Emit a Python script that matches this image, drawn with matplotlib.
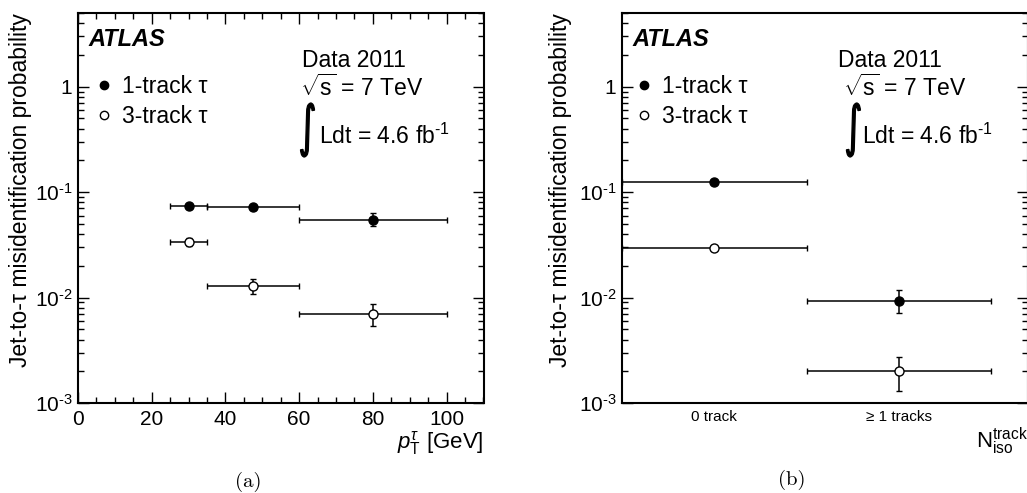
import numpy as np
import matplotlib
matplotlib.use('Agg')
import matplotlib.pyplot as plt
from matplotlib.lines import Line2D
from matplotlib.textpath import TextPath
from matplotlib.patches import PathPatch
from matplotlib.font_manager import FontProperties
from matplotlib.transforms import Affine2D
from matplotlib.ticker import MultipleLocator, LogLocator, FuncFormatter, NullFormatter

plt.rcParams['font.family'] = ['Liberation Sans', 'DejaVu Sans']
plt.rcParams['mathtext.fontset'] = 'custom'
plt.rcParams['mathtext.rm'] = 'Liberation Sans'
plt.rcParams['mathtext.it'] = 'Liberation Sans:italic'
plt.rcParams['mathtext.bf'] = 'Liberation Sans:bold'

# (a) fake rate vs pT
pt_center = np.array([30, 47.5, 80])
pt_lo = np.array([25, 35, 60])
pt_hi = np.array([35, 60, 100])
fake_1p = np.array([0.074, 0.072, 0.055])
fake_1p_up = np.array([0.004, 0.004, 0.009])
fake_1p_dn = np.array([0.004, 0.004, 0.007])
fake_3p = np.array([0.034, 0.0128, 0.0070])
fake_3p_up = np.array([0.003, 0.0022, 0.0017])
fake_3p_dn = np.array([0.003, 0.0020, 0.0016])

# (b) fake rate vs number of isolation tracks
iso_labels = ['0 track', '\u2265 1 tracks']
iso_center = np.array([0.5, 1.5])
iso_lo = np.array([0, 1])
iso_hi = np.array([1, 2])
iso_1p = np.array([0.125, 0.0093])
iso_1p_up = np.array([0.002, 0.0025])
iso_1p_dn = np.array([0.002, 0.0022])
iso_3p = np.array([0.0297, 0.0020])
iso_3p_up = np.array([0.0008, 0.00076])
iso_3p_dn = np.array([0.0008, 0.00071])

ylab = 'Jet-to-\u03c4 misidentification probability'
FS = 16.5


def log_fmt(v, pos):
    e = int(round(np.log10(v)))
    if e == 0:
        return '1'
    return '10$^{\u2010%d}$' % abs(e)


def draw_points(ax, x, lo, hi, y, dn, up, filled):
    ax.errorbar(x, y, xerr=[x - lo, hi - x], yerr=[dn, up], fmt='o',
                color='black', mfc='black' if filled else 'white', mec='black',
                ms=6.5, mew=1.0, elinewidth=1.1, capsize=2, capthick=1.1, zorder=3)


def style_axes(ax):
    ax.set_yscale('log')
    ax.set_ylim(1e-3, 5)
    ax.yaxis.set_major_locator(LogLocator(base=10, numticks=10))
    ax.yaxis.set_minor_locator(LogLocator(base=10, subs=np.arange(2, 10), numticks=10))
    ax.yaxis.set_major_formatter(FuncFormatter(log_fmt))
    ax.yaxis.set_minor_formatter(NullFormatter())
    ax.tick_params(axis='y', which='both', direction='in', left=True, right=True, labelsize=15, pad=4)
    ax.tick_params(axis='y', which='major', length=8, width=1)
    ax.tick_params(axis='y', which='minor', length=4, width=1)
    for s in ax.spines.values():
        s.set_linewidth(1.5)


def big_integral(fig, ax, xc, yc, height=54, squeeze=0.62):
    # tall, thin integral sign like the ROOT one
    tp = TextPath((0, 0), '\u222b', size=50, prop=FontProperties(family='DejaVu Sans'))
    ext = tp.get_extents()
    sy = height / ext.height
    sx = sy * squeeze
    px, py = ax.transAxes.transform((xc, yc))
    tr = (Affine2D().translate(-(ext.x0 + ext.x1) / 2, -(ext.y0 + ext.y1) / 2)
          .scale(sx, sy).translate(px, py))
    fig.add_artist(PathPatch(tp, transform=tr, facecolor='black', edgecolor='black', linewidth=0.9))


def add_text(fig, ax, x_atlas, x_data, x_sqrt, x_int, x_ldt, x_leg):
    ax.text(x_atlas, 0.933, 'ATLAS', transform=ax.transAxes, fontsize=17,
            fontweight='bold', fontstyle='italic', va='center', ha='left')
    ax.text(x_data, 0.879, 'Data 2011', transform=ax.transAxes, fontsize=FS, va='center')
    ax.text(x_sqrt, 0.808, r'$\sqrt{\mathrm{s}}$ = 7 TeV', transform=ax.transAxes, fontsize=FS, va='center')
    big_integral(fig, ax, x_int, 0.70)
    ax.text(x_ldt, 0.683, 'Ldt = 4.6 fb$^{\u20101}$', transform=ax.transAxes, fontsize=FS, va='center')
    handles = [Line2D([], [], ls='none', marker='o', color='black', mfc='black', ms=6),
               Line2D([], [], ls='none', marker='o', color='black', mfc='white', ms=6, mew=1)]
    ax.legend(handles, ['1-track \u03c4', '3-track \u03c4'], loc='upper left',
              bbox_to_anchor=(x_leg, 0.84), frameon=False, fontsize=FS,
              handlelength=1.0, handletextpad=0.3, borderpad=0, borderaxespad=0,
              labelspacing=0.3)


fig = plt.figure(figsize=(10.27, 4.93), dpi=100)
ax1 = fig.add_axes([78 / 1027, 90 / 493, 405.5 / 1027, 390 / 493])
ax2 = fig.add_axes([622 / 1027, 90 / 493, 406 / 1027, 390 / 493])

# panel (a)
draw_points(ax1, pt_center, pt_lo, pt_hi, fake_1p, fake_1p_dn, fake_1p_up, True)
draw_points(ax1, pt_center, pt_lo, pt_hi, fake_3p, fake_3p_dn, fake_3p_up, False)
style_axes(ax1)
ax1.set_xlim(0, 110)
ax1.xaxis.set_major_locator(MultipleLocator(20))
ax1.xaxis.set_minor_locator(MultipleLocator(5))
ax1.tick_params(axis='x', which='both', direction='in', bottom=True, top=True, labelsize=15, pad=5)
ax1.tick_params(axis='x', which='major', length=8, width=1)
ax1.tick_params(axis='x', which='minor', length=4, width=1)
ax1.set_ylabel(ylab, fontsize=16.5, loc='top')
ax1.yaxis.set_label_coords(-0.113, 1.0)
ax1.set_xlabel(r'$p_{\mathrm{T}}^{\tau}$ [GeV]', fontsize=16, loc='right')
ax1.xaxis.set_label_coords(1.0, -0.066)
add_text(fig, ax1, 0.025, 0.552, 0.547, 0.566, 0.594, 0.036)

# panel (b)
draw_points(ax2, iso_center, iso_lo, iso_hi, iso_1p, iso_1p_dn, iso_1p_up, True)
draw_points(ax2, iso_center, iso_lo, iso_hi, iso_3p, iso_3p_dn, iso_3p_up, False)
style_axes(ax2)
ax2.set_xlim(0, 2.2)
ax2.set_xticks(iso_center)
ax2.set_xticklabels([iso_labels[0], iso_labels[1]])
ax2.tick_params(axis='x', which='both', length=0, labelsize=11, pad=5)
ax2.set_ylabel(ylab, fontsize=16.5, loc='top')
ax2.yaxis.set_label_coords(-0.123, 1.0)
ax2.set_xlabel(r'N$_{\mathrm{iso}}^{\mathrm{track}}$', fontsize=16, loc='right')
ax2.xaxis.set_label_coords(1.0, -0.058)
add_text(fig, ax2, 0.027, 0.532, 0.544, 0.570, 0.592, 0.025)

fig.text(248 / 1027, 1 - 482 / 493, '(a)', ha='center', va='center', fontsize=15, family='cmr10')
fig.text(792 / 1027, 1 - 480 / 493, '(b)', ha='center', va='center', fontsize=15, family='cmr10')

fig.savefig('out.png', dpi=100)
